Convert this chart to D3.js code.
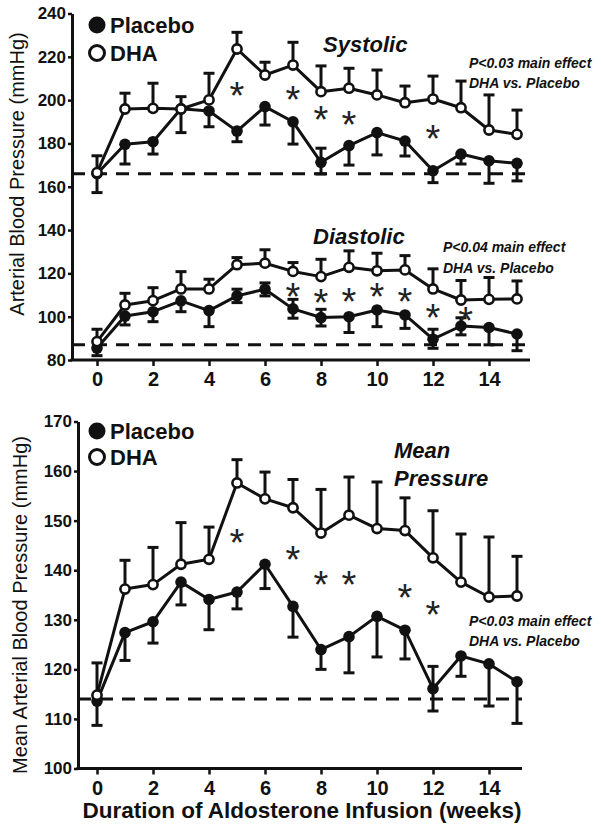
<!DOCTYPE html>
<html><head><meta charset="utf-8">
<script src="https://cdnjs.cloudflare.com/ajax/libs/d3/7.8.5/d3.min.js"></script>
<style>
body{margin:0;background:#fff}
svg{display:block}
text{font-family:"Liberation Sans",Arial,Helvetica,sans-serif}
</style>
</head><body>
<svg id="chart" width="601" height="830"></svg>
<script>
// ---------- data ----------
const weeks = [0,1,2,3,4,5,6,7,8,9,10,11,12,13,14,15];
const xTickValues = [0,2,4,6,8,10,12,14];
const topYTicks = [80,100,120,140,160,180,200,220,240];
const meanYTicks = [100,110,120,130,140,150,160,170];

// Systolic
const sysPlacebo    = [166,179.6,180.8,196,195,185.7,197,190,171.3,179,185,181.1,167.4,175.1,172,170.8];
const sysPlaceboLo  = [157.3,170.5,175.1,185,187.7,180.8,188.5,179.7,165.9,170,174.7,174.2,161.9,170.5,161.6,162.7];
const sysPlaceboHi  = [null,null,null,null,null,null,null,null,177.8,null,null,null,null,null,null,null];
const sysDHA        = [166.5,195.9,196.2,195.9,200.1,223.6,211.6,216.2,203.9,205.5,202.4,198.8,200.5,196.5,186.2,184.2];
const sysDHAHi      = [174.3,203.2,207.8,201.6,212.4,231.3,217.5,226.7,215.8,214.7,213.9,206.5,211.1,208.8,202.4,195.4];
const sysBaseline   = 166;
const sysStarWeeks  = [5,7,8,9,12];
const sysStarValues = [205.7,203.8,194.5,192.2,185.7];

// Diastolic
const diaPlacebo    = [85.5,100.3,102.3,107.3,102.8,109.6,112.7,103.6,99.6,100,103.1,100.8,89.6,95.7,95,92];
const diaPlaceboLo  = [82,96.2,97.7,102.3,95.4,106.5,109.6,99.3,95.7,92.7,95.4,94.6,85.4,91.6,87,84.3];
const diaPlaceboHi  = [null,null,null,null,null,112.7,115.6,108,103.4,null,null,null,94.2,99.5,null,null];
const diaDHA        = [88.5,105.4,107.4,112.8,112.8,124,124.7,120.9,118.5,122.8,121.2,121.6,112.8,107.7,108,108.2];
const diaDHAHi      = [94.2,110.8,113.4,120.8,117.3,127.3,130.9,125,126.5,130.4,129.3,128.2,122.1,116.7,118.1,116.5];
const diaBaseline   = 87;
const diaStarWeeks  = [7,8,9,10,11,12,13.17];
const diaStarValues = [113.1,110,110.5,112.8,110.5,103.4,101.8];

// Mean arterial pressure
const mapPlacebo    = [113.6,127.4,129.6,137.6,134.1,135.6,141.2,132.7,124,126.6,130.7,127.9,116.1,122.7,121.1,117.5];
const mapPlaceboLo  = [108.7,121.8,125.3,133,128,132.2,136.3,126.5,120,119.3,122.5,122.1,111.6,118.6,112.6,109.1];
const mapPlaceboHi  = [null,null,null,null,null,null,null,null,null,null,null,null,120.6,null,null,null];
const mapDHA        = [114.8,136.2,137.1,141.2,142.2,157.6,154.4,152.6,147.5,151.1,148.4,148,142.5,137.6,134.6,134.8];
const mapDHAHi      = [121.3,142,144.6,149.6,148.7,162.3,159.8,158.3,156.3,158.8,157.8,154.6,152,147.3,146.7,142.8];
const mapBaseline   = 114;
const mapStarWeeks  = [5,7,8,9,11,12];
const mapStarValues = [147.2,143.8,138.7,138.7,136.1,132.6];

const seriesNames = ["Placebo","DHA"];

// ---------- drawing ----------
const svg = d3.select("#chart");
const INK = "#111";

const x = d3.scaleLinear().domain([0,14]).range([97,489]);
const yTop = d3.scaleLinear().domain([80,240]).range([360,13.5]);
const yMap = d3.scaleLinear().domain([100,170]).range([768.5,421.5]);

function drawAxes(y, yTicks, axisX, axisY, xEnd, yTickFs){
  const gy = svg.append("g").attr("transform",`translate(${axisX},0)`)
    .call(d3.axisLeft(y).tickValues(yTicks).tickSize(4).tickPadding(2).tickSizeOuter(0));
  gy.select(".domain").attr("stroke",INK).attr("stroke-width",3);
  gy.selectAll(".tick line").attr("stroke",INK).attr("stroke-width",2.5);
  gy.selectAll(".tick text").attr("fill",INK).attr("font-size",yTickFs).attr("font-weight","bold")
    .style("font-family",'"Liberation Sans",Arial,sans-serif');
  const gx = svg.append("g").attr("transform",`translate(0,${axisY})`)
    .call(d3.axisBottom(x).tickValues(xTickValues).tickSize(6).tickPadding(6).tickSizeOuter(0));
  gx.select(".domain").remove();
  gx.selectAll(".tick line").attr("stroke",INK).attr("stroke-width",2.5);
  gx.selectAll(".tick text").attr("fill",INK).attr("font-size",20).attr("font-weight","bold")
    .style("font-family",'"Liberation Sans",Arial,sans-serif');
  svg.append("line").attr("x1",axisX-1.5).attr("x2",xEnd).attr("y1",axisY).attr("y2",axisY)
    .attr("stroke",INK).attr("stroke-width",3);
}

function drawBaseline(y, v, x1, x2){
  svg.append("line").attr("x1",x1).attr("x2",x2).attr("y1",y(v)).attr("y2",y(v))
    .attr("stroke",INK).attr("stroke-width",3).attr("stroke-dasharray","13,9");
}

function errBars(g, y, ends, means){
  weeks.forEach((w,i)=>{
    const e = ends[i]; if(e==null) return;
    g.append("line").attr("x1",x(w)).attr("x2",x(w)).attr("y1",y(means[i])).attr("y2",y(e))
      .attr("stroke",INK).attr("stroke-width",3);
    g.append("line").attr("x1",x(w)-5.5).attr("x2",x(w)+5.5).attr("y1",y(e)).attr("y2",y(e))
      .attr("stroke",INK).attr("stroke-width",3);
  });
}

function drawPair(y, pl, plLo, plHi, dha, dhaHi){
  const g = svg.append("g");
  const line = d3.line().x((d,i)=>x(weeks[i])).y(d=>y(d));
  errBars(g, y, plLo, pl);
  errBars(g, y, plHi, pl);
  errBars(g, y, dhaHi, dha);
  g.append("path").datum(pl).attr("d",line).attr("fill","none").attr("stroke",INK).attr("stroke-width",3).attr("stroke-linejoin","round");
  g.append("path").datum(dha).attr("d",line).attr("fill","none").attr("stroke",INK).attr("stroke-width",3).attr("stroke-linejoin","round");
  g.selectAll(null).data(pl).enter().append("circle")
    .attr("cx",(d,i)=>x(weeks[i])).attr("cy",d=>y(d)).attr("r",5.8).attr("fill",INK);
  g.selectAll(null).data(dha).enter().append("circle")
    .attr("cx",(d,i)=>x(weeks[i])).attr("cy",d=>y(d)).attr("r",4.6).attr("fill","#fff")
    .attr("stroke",INK).attr("stroke-width",2.6);
}

function stars(y, ws, vs){
  const fs = 38;
  ws.forEach((w,i)=>{
    svg.append("text").attr("x",x(w)).attr("y",y(vs[i])+fs*0.56).attr("text-anchor","middle")
      .attr("font-size",fs).attr("fill","#222").text("*");
  });
}

function legend(cx, cy1, cy2){
  svg.append("circle").attr("cx",cx).attr("cy",cy1).attr("r",8.5).attr("fill",INK);
  svg.append("circle").attr("cx",cx).attr("cy",cy2).attr("r",7.5).attr("fill","#fff").attr("stroke",INK).attr("stroke-width",3);
  svg.append("text").attr("x",cx+13).attr("y",cy1+7.5).attr("font-size",22).attr("font-weight","bold").attr("fill",INK).text(seriesNames[0]);
  svg.append("text").attr("x",cx+13).attr("y",cy2+7.5).attr("font-size",22).attr("font-weight","bold").attr("fill",INK).text(seriesNames[1]);
}

function note(xp, y1, lines, fs, lh){
  const t = svg.append("text").attr("x",xp).attr("y",y1).attr("font-size",fs)
    .attr("font-weight","bold").attr("font-style","italic").attr("fill",INK);
  lines.forEach((l,i)=>t.append("tspan").attr("x",xp).attr("dy",i?lh:0).text(l));
}

// ---- top panel (systolic + diastolic) ----
drawAxes(yTop, topYTicks, 72, 360, 530, 17);
drawBaseline(yTop, sysBaseline, 72, 525);
drawBaseline(yTop, diaBaseline, 72, 525);
drawPair(yTop, sysPlacebo, sysPlaceboLo, sysPlaceboHi, sysDHA, sysDHAHi);
drawPair(yTop, diaPlacebo, diaPlaceboLo, diaPlaceboHi, diaDHA, diaDHAHi);
stars(yTop, sysStarWeeks, sysStarValues);
stars(yTop, diaStarWeeks, diaStarValues);
legend(97, 25, 53);
note(323, 52, ["Systolic"], 22, 0);
note(469, 68, ["P<0.03 main effect","DHA vs. Placebo"], 14, 20);
note(313, 244, ["Diastolic"], 22, 0);
note(443, 252, ["P<0.04 main effect","DHA vs. Placebo"], 14, 20.5);
svg.append("text").attr("transform","translate(24,174) rotate(-90)").attr("text-anchor","middle")
  .attr("font-size",20).attr("fill",INK).text("Arterial Blood Pressure (mmHg)");

// ---- bottom panel (mean) ----
drawAxes(yMap, meanYTicks, 78, 768.5, 522, 17);
drawBaseline(yMap, mapBaseline, 78, 522);
drawPair(yMap, mapPlacebo, mapPlaceboLo, mapPlaceboHi, mapDHA, mapDHAHi);
stars(yMap, mapStarWeeks, mapStarValues);
legend(97, 431, 457);
note(394, 458, ["Mean","Pressure"], 22, 28);
note(469, 626, ["P<0.03 main effect","DHA vs. Placebo"], 14, 19.5);
svg.append("text").attr("transform","translate(27,605) rotate(-90)").attr("text-anchor","middle")
  .attr("font-size",20).attr("fill",INK).text("Mean Arterial Blood Pressure (mmHg)");

svg.append("text").attr("x",302).attr("y",818).attr("text-anchor","middle").attr("font-size",22.5)
  .attr("font-weight","bold").attr("fill",INK).text("Duration of Aldosterone Infusion (weeks)");
</script>
</body></html>
